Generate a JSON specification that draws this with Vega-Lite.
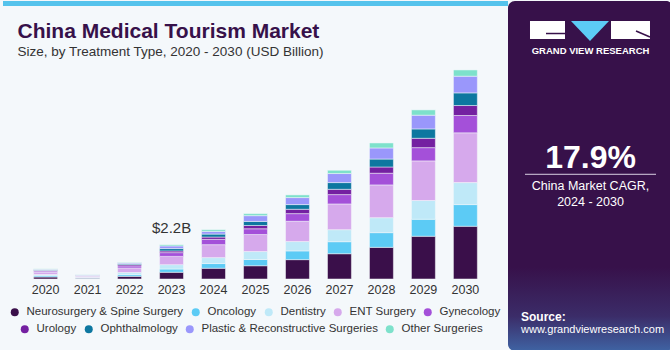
{
  "$schema": "https://vega.github.io/schema/vega-lite/v6.json",
  "background": "#f4f8fb",
  "padding": 0,
  "spacing": 0,
  "bounds": "flush",
  "resolve": {"scale": {"color": "independent", "fill": "independent"}, "legend": {"color": "independent", "fill": "independent"}},
  "config": {
    "font": "Liberation Sans",
    "view": {"stroke": null}
  },
  "datasets": {
    "market": [
      {"year": "2020", "Neurosurgery & Spine Surgery": 0.13, "Oncology": 0.08, "Dentistry": 0.08, "ENT Surgery": 0.14, "Gynecology": 0.08, "Urology": 0.04, "Ophthalmology": 0.04, "Plastic & Reconstructive Surgeries": 0.04, "Other Surgeries": 0.02},
      {"year": "2021", "Neurosurgery & Spine Surgery": 0.05, "Oncology": 0.03, "Dentistry": 0.03, "ENT Surgery": 0.06, "Gynecology": 0.03, "Urology": 0.02, "Ophthalmology": 0.02, "Plastic & Reconstructive Surgeries": 0.03, "Other Surgeries": 0.01},
      {"year": "2022", "Neurosurgery & Spine Surgery": 0.17, "Oncology": 0.11, "Dentistry": 0.13, "ENT Surgery": 0.30, "Gynecology": 0.13, "Urology": 0.08, "Ophthalmology": 0.06, "Plastic & Reconstructive Surgeries": 0.06, "Other Surgeries": 0.03},
      {"year": "2023", "Neurosurgery & Spine Surgery": 0.43, "Oncology": 0.21, "Dentistry": 0.28, "ENT Surgery": 0.53, "Gynecology": 0.24, "Urology": 0.11, "Ophthalmology": 0.15, "Plastic & Reconstructive Surgeries": 0.17, "Other Surgeries": 0.08},
      {"year": "2024", "Neurosurgery & Spine Surgery": 0.69, "Oncology": 0.30, "Dentistry": 0.38, "ENT Surgery": 0.83, "Gynecology": 0.34, "Urology": 0.15, "Ophthalmology": 0.19, "Plastic & Reconstructive Surgeries": 0.17, "Other Surgeries": 0.11},
      {"year": "2025", "Neurosurgery & Spine Surgery": 0.85, "Oncology": 0.40, "Dentistry": 0.51, "ENT Surgery": 1.09, "Gynecology": 0.37, "Urology": 0.21, "Ophthalmology": 0.26, "Plastic & Reconstructive Surgeries": 0.37, "Other Surgeries": 0.13},
      {"year": "2026", "Neurosurgery & Spine Surgery": 1.24, "Oncology": 0.56, "Dentistry": 0.60, "ENT Surgery": 1.30, "Gynecology": 0.49, "Urology": 0.28, "Ophthalmology": 0.30, "Plastic & Reconstructive Surgeries": 0.45, "Other Surgeries": 0.17},
      {"year": "2027", "Neurosurgery & Spine Surgery": 1.62, "Oncology": 0.77, "Dentistry": 0.77, "ENT Surgery": 1.65, "Gynecology": 0.60, "Urology": 0.34, "Ophthalmology": 0.43, "Plastic & Reconstructive Surgeries": 0.58, "Other Surgeries": 0.21},
      {"year": "2028", "Neurosurgery & Spine Surgery": 2.03, "Oncology": 0.94, "Dentistry": 0.96, "ENT Surgery": 2.10, "Gynecology": 0.75, "Urology": 0.40, "Ophthalmology": 0.51, "Plastic & Reconstructive Surgeries": 0.71, "Other Surgeries": 0.32},
      {"year": "2029", "Neurosurgery & Spine Surgery": 2.74, "Oncology": 1.09, "Dentistry": 1.20, "ENT Surgery": 2.54, "Gynecology": 0.85, "Urology": 0.60, "Ophthalmology": 0.60, "Plastic & Reconstructive Surgeries": 0.88, "Other Surgeries": 0.34},
      {"year": "2030", "Neurosurgery & Spine Surgery": 3.38, "Oncology": 1.39, "Dentistry": 1.41, "ENT Surgery": 3.19, "Gynecology": 1.11, "Urology": 0.64, "Ophthalmology": 0.81, "Plastic & Reconstructive Surgeries": 1.07, "Other Surgeries": 0.40}
    ],
    "types": [
      {"type": "Neurosurgery & Spine Surgery", "rank": 1},
      {"type": "Oncology", "rank": 2},
      {"type": "Dentistry", "rank": 3},
      {"type": "ENT Surgery", "rank": 4},
      {"type": "Gynecology", "rank": 5},
      {"type": "Urology", "rank": 6},
      {"type": "Ophthalmology", "rank": 7},
      {"type": "Plastic & Reconstructive Surgeries", "rank": 8},
      {"type": "Other Surgeries", "rank": 9}
    ],
    "panel": [{"k": 1}],
    "callout": [{"year": "2023", "total": 2.2, "label": "$2.2B"}]
  },
  "hconcat": [
    {
      "width": 505,
      "height": 278,
      "resolve": {"scale": {"fill": "independent"}, "legend": {"fill": "independent"}},
      "title": {
        "text": "China Medical Tourism Market",
        "subtitle": "Size, by Treatment Type, 2020 - 2030 (USD Billion)",
        "anchor": "start",
        "offset": -58,
        "dx": 17,
        "fontSize": 21,
        "fontWeight": "bold",
        "color": "#37114a",
        "subtitleFontSize": 13.5,
        "subtitleColor": "#333333",
        "subtitlePadding": 3,
        "font": "Liberation Sans",
        "subtitleFont": "Liberation Sans"
      },
      "layer": [
        {
          "data": {"name": "panel"},
          "mark": {"type": "rule", "color": "#55c3ec", "strokeWidth": 5},
          "encoding": {
            "y": {"datum": 17.66, "type": "quantitative", "scale": {"domain": [0, 17.82], "nice": false, "zero": true}, "axis": null}
          }
        },
        {
          "data": {"name": "market"},
          "transform": [
            {"fold": ["Neurosurgery & Spine Surgery", "Oncology", "Dentistry", "ENT Surgery", "Gynecology", "Urology", "Ophthalmology", "Plastic & Reconstructive Surgeries", "Other Surgeries"], "as": ["type", "value"]},
            {"lookup": "type", "from": {"data": {"name": "types"}, "key": "type", "fields": ["rank"]}}
          ],
          "mark": {"type": "bar", "stroke": "#f4f8fb", "strokeWidth": 0.5},
          "encoding": {
            "x": {
              "field": "year", "type": "ordinal",
              "scale": {"paddingInner": 0.43, "paddingOuter": 0.73},
              "axis": {"title": null, "labelAngle": 0, "ticks": false, "domain": false, "labelFontSize": 12.5, "labelColor": "#333333", "labelPadding": 4}
            },
            "y": {"field": "value", "type": "quantitative", "stack": "zero", "scale": {"domain": [0, 17.82], "nice": false, "zero": true}, "axis": null},
            "order": {"field": "rank", "type": "quantitative", "sort": "ascending"},
            "color": {
              "field": "type", "type": "nominal",
              "scale": {
                "domain": ["Neurosurgery & Spine Surgery", "Oncology", "Dentistry", "ENT Surgery", "Gynecology", "Urology", "Ophthalmology", "Plastic & Reconstructive Surgeries", "Other Surgeries"],
                "range": ["#3a0f4a", "#5ccbf5", "#bfe9f8", "#d6a9ec", "#a450d9", "#7420a1", "#0d77a0", "#9a97fb", "#7de1cb"]
              },
              "legend": null
            }
          }
        },
        {
          "data": {"name": "types"},
          "transform": [{"filter": "datum.rank <= 5"}],
          "mark": {"type": "point", "filled": true, "opacity": 0},
          "encoding": {
            "fill": {
              "field": "type", "type": "nominal",
              "scale": {
                "domain": ["Neurosurgery & Spine Surgery", "Oncology", "Dentistry", "ENT Surgery", "Gynecology"],
                "range": ["#3a0f4a", "#5ccbf5", "#bfe9f8", "#d6a9ec", "#a450d9"]
              },
              "legend": {
                "title": null, "orient": "bottom", "direction": "horizontal",
                "symbolType": "circle", "symbolSize": 64, "symbolStrokeWidth": 0, "symbolOpacity": 1,
                "labelFontSize": 11.5, "labelColor": "#333333", "labelLimit": 300,
                "columnPadding": 6, "labelOffset": 6, "padding": 6, "offset": 4
              }
            }
          }
        },
        {
          "data": {"name": "types"},
          "transform": [{"filter": "datum.rank > 5"}],
          "mark": {"type": "point", "filled": true, "opacity": 0},
          "encoding": {
            "fill": {
              "field": "type", "type": "nominal",
              "scale": {
                "domain": ["Urology", "Ophthalmology", "Plastic & Reconstructive Surgeries", "Other Surgeries"],
                "range": ["#7420a1", "#0d77a0", "#9a97fb", "#7de1cb"]
              },
              "legend": {
                "title": null, "orient": "none", "legendX": 16, "legendY": 322, "direction": "horizontal",
                "symbolType": "circle", "symbolSize": 64, "symbolStrokeWidth": 0, "symbolOpacity": 1,
                "labelFontSize": 11.5, "labelColor": "#333333", "labelLimit": 300,
                "columnPadding": 6, "labelOffset": 6, "padding": 0
              }
            }
          }
        },
        {
          "data": {"name": "callout"},
          "mark": {"type": "text", "fontSize": 15, "color": "#333333", "dy": -12, "baseline": "alphabetic"},
          "encoding": {
            "x": {"field": "year", "type": "ordinal"},
            "y": {"field": "total", "type": "quantitative", "scale": {"domain": [0, 17.82], "nice": false, "zero": true}, "axis": null},
            "text": {"field": "label"}
          }
        }
      ]
    },
    {
      "width": 165,
      "height": 350,
      "data": {"name": "panel"},
      "encoding": {
        "x": {"datum": 0, "type": "quantitative", "scale": {"domain": [0, 1], "nice": false, "zero": false}, "axis": null},
        "y": {"datum": 0, "type": "quantitative", "scale": {"domain": [0, 1], "reverse": true, "nice": false, "zero": false}, "axis": null}
      },
      "layer": [
        {
          "mark": {"type": "rect", "cornerRadius": 7, "color": {"gradient": "linear", "x1": 0, "y1": 0, "x2": 0, "y2": 1, "stops": [{"offset": 0, "color": "#37114a"}, {"offset": 0.76, "color": "#37114a"}, {"offset": 0.9, "color": "#3b2c68"}, {"offset": 1, "color": "#3f63a3"}]}},
          "encoding": {"x": {"datum": 0, "type": "quantitative"}, "x2": {"datum": 1}, "y": {"datum": 0, "type": "quantitative"}, "y2": {"datum": 1}}
        },
        {
          "mark": {"type": "rect", "color": "#ffffff"},
          "encoding": {"x": {"datum": 0.1333, "type": "quantitative"}, "x2": {"datum": 0.3455}, "y": {"datum": 0.0571, "type": "quantitative"}, "y2": {"datum": 0.1086}}
        },
        {
          "mark": {"type": "rect", "color": "#ffffff"},
          "encoding": {"x": {"datum": 0.6242, "type": "quantitative"}, "x2": {"datum": 0.8606}, "y": {"datum": 0.0571, "type": "quantitative"}, "y2": {"datum": 0.1086}}
        },
        {
          "mark": {"type": "rule", "color": "#37114a", "strokeWidth": 1.5},
          "encoding": {"x": {"datum": 0.2303, "type": "quantitative"}, "x2": {"datum": 0.3455}, "y": {"datum": 0.0929, "type": "quantitative"}, "y2": {"datum": 0.0929}}
        },
        {
          "mark": {"type": "rule", "color": "#37114a", "strokeWidth": 1.5},
          "encoding": {"x": {"datum": 0.7758, "type": "quantitative"}, "x2": {"datum": 0.8606}, "y": {"datum": 0.0857, "type": "quantitative"}, "y2": {"datum": 0.1029}}
        },
        {
          "mark": {"type": "point", "shape": "M-1,-0.53L1,-0.53L0,0.53Z", "size": 1444, "filled": true, "color": "#5ccbf5", "opacity": 1, "strokeWidth": 0},
          "encoding": {"x": {"datum": 0.497, "type": "quantitative"}, "y": {"datum": 0.0857, "type": "quantitative"}}
        },
        {
          "mark": {"type": "text", "text": "GRAND VIEW RESEARCH", "color": "#ffffff", "fontSize": 9.5, "fontWeight": "bold", "letterSpacing": 0.3, "align": "center", "baseline": "alphabetic"},
          "encoding": {"x": {"datum": 0.5, "type": "quantitative"}, "y": {"datum": 0.1523, "type": "quantitative"}}
        },
        {
          "mark": {"type": "text", "text": "17.9%", "color": "#ffffff", "fontSize": 32, "fontWeight": "bold", "align": "center", "baseline": "alphabetic"},
          "encoding": {"x": {"datum": 0.5, "type": "quantitative"}, "y": {"datum": 0.4771, "type": "quantitative"}}
        },
        {
          "mark": {"type": "rule", "color": "#d8d0e2", "strokeWidth": 1},
          "encoding": {"x": {"datum": 0.103, "type": "quantitative"}, "x2": {"datum": 0.897}, "y": {"datum": 0.4951, "type": "quantitative"}, "y2": {"datum": 0.4951}}
        },
        {
          "mark": {"type": "text", "text": "China Market CAGR,", "color": "#ffffff", "fontSize": 12.5, "align": "center", "baseline": "alphabetic"},
          "encoding": {"x": {"datum": 0.5, "type": "quantitative"}, "y": {"datum": 0.54, "type": "quantitative"}}
        },
        {
          "mark": {"type": "text", "text": "2024 - 2030", "color": "#ffffff", "fontSize": 12.5, "align": "center", "baseline": "alphabetic"},
          "encoding": {"x": {"datum": 0.5, "type": "quantitative"}, "y": {"datum": 0.5849, "type": "quantitative"}}
        },
        {
          "mark": {"type": "text", "text": "Source:", "color": "#ffffff", "fontSize": 12, "fontWeight": "bold", "align": "left", "baseline": "alphabetic"},
          "encoding": {"x": {"datum": 0.0788, "type": "quantitative"}, "y": {"datum": 0.9143, "type": "quantitative"}}
        },
        {
          "mark": {"type": "text", "text": "www.grandviewresearch.com", "color": "#ffffff", "fontSize": 11, "align": "left", "baseline": "alphabetic"},
          "encoding": {"x": {"datum": 0.0788, "type": "quantitative"}, "y": {"datum": 0.9486, "type": "quantitative"}}
        }
      ]
    }
  ]
}
